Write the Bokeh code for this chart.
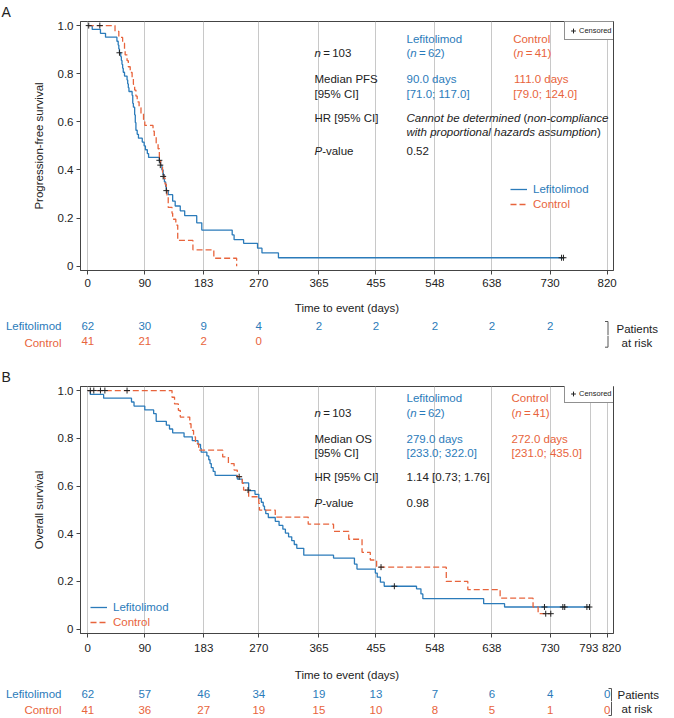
from bokeh.plotting import figure
from bokeh.models import (Range1d, FixedTicker, Label, Legend, LegendItem, LinearAxis)
from bokeh.layouts import column
from bokeh.embed import file_html
from bokeh.resources import INLINE

# ---------------- data ----------------
pfs_ticks = [0, 90, 183, 270, 365, 455, 548, 638, 730, 820]
os_ticks = [0, 90, 183, 270, 365, 455, 548, 638, 730, 793, 820]
y_ticks = [0, 0.2, 0.4, 0.6, 0.8, 1.0]

pfs_lef_t = [0, 7, 20, 28, 46, 48, 49, 50, 52, 53, 54, 55, 56, 58, 62, 63, 64, 65, 70, 71,
             72, 74, 75, 76, 78, 80, 86, 89, 91, 94, 96, 113, 115, 117, 119, 121, 123, 124, 127, 134,
             138, 146, 153, 172, 180, 228, 231, 246, 268, 275, 301, 751]
pfs_lef_s = [1.0, 0.984, 0.968, 0.952, 0.935, 0.919, 0.903, 0.887, 0.871, 0.855,
             0.839, 0.823, 0.806, 0.79, 0.774, 0.758, 0.742, 0.726, 0.71, 0.677,
             0.661, 0.629, 0.597, 0.565, 0.548, 0.532, 0.516, 0.5, 0.484, 0.468,
             0.452, 0.436, 0.42, 0.40, 0.38, 0.35, 0.33, 0.314, 0.297, 0.27,
             0.25, 0.23, 0.21, 0.18, 0.15, 0.13, 0.11, 0.095, 0.075, 0.055, 0.035, 0.035]
pfs_ctl_t = [0, 43, 49, 55, 58, 59, 62, 64, 67, 70, 72, 74, 76, 78, 81, 84, 88, 90, 103, 105,
             108, 111, 113, 115, 118, 120, 122, 124, 125, 127, 133, 134, 139, 142, 166, 199, 235]
pfs_ctl_s = [1.0, 0.976, 0.951, 0.927, 0.902, 0.878, 0.854, 0.829, 0.805, 0.78,
             0.756, 0.732, 0.707, 0.683, 0.659, 0.634, 0.61, 0.585, 0.561, 0.537,
             0.512, 0.488, 0.439, 0.415, 0.39, 0.366, 0.341, 0.317, 0.293, 0.244,
             0.22, 0.195, 0.171, 0.107, 0.068, 0.033, 0.0]
pfs_cens_t = [1.5, 19, 50, 113, 114.5, 119, 124, 748, 751]
pfs_cens_s = [1.0, 1.0, 0.887, 0.44, 0.42, 0.373, 0.314, 0.035, 0.035]

os_lef_t = [0, 4, 25, 69, 73, 90, 104, 108, 124, 129, 134, 152, 165, 174, 178, 179, 188, 191, 193, 195,
            198, 201, 236, 244, 254, 264, 270, 274, 277, 279, 281, 285, 296, 302, 308, 312, 317, 322, 326, 330,
            341, 388, 421, 425, 454, 457, 462, 468, 519, 526, 529, 625, 658, 793]
os_lef_s = [1.0, 0.984, 0.968, 0.952, 0.935, 0.919, 0.903, 0.871, 0.855, 0.839,
            0.823, 0.806, 0.79, 0.774, 0.758, 0.742, 0.726, 0.71, 0.694, 0.677,
            0.661, 0.645, 0.629, 0.613, 0.581, 0.565, 0.548, 0.532, 0.516, 0.5,
            0.484, 0.468, 0.452, 0.435, 0.419, 0.403, 0.387, 0.371, 0.355, 0.339,
            0.31, 0.298, 0.273, 0.252, 0.235, 0.218, 0.197, 0.18, 0.169, 0.148,
            0.128, 0.107, 0.093, 0.093]
os_ctl_t = [0, 133, 137, 143, 146, 161, 163, 167, 170, 175, 213, 222, 231, 236, 244, 246, 254, 270, 271, 296,
            348, 388, 412, 433, 446, 456, 566, 600, 651, 703, 711, 731]
os_ctl_s = [1.0, 0.972, 0.944, 0.917, 0.889, 0.861, 0.833, 0.806, 0.778, 0.75,
            0.722, 0.694, 0.667, 0.639, 0.611, 0.583, 0.555, 0.527, 0.499, 0.47,
            0.44, 0.41, 0.377, 0.322, 0.29, 0.26, 0.2, 0.166, 0.13, 0.093, 0.065, 0.065]
os_cens_t = [4, 9.5, 20, 27, 62, 239, 253, 463, 484, 721, 723, 731, 750, 753, 788, 792]
os_cens_s = [1, 1, 1, 1, 1, 0.639, 0.583, 0.26, 0.18, 0.093, 0.065, 0.065, 0.093, 0.093, 0.093, 0.093]

risk_t_pfs_lef = [0, 90, 183, 270, 365, 455, 548, 638, 730]
risk_pfs_lef = [62, 30, 9, 4, 2, 2, 2, 2, 2]
risk_t_pfs_ctl = [0, 90, 183, 270]
risk_pfs_ctl = [41, 21, 2, 0]
risk_t_os = [0, 90, 183, 270, 365, 455, 548, 638, 730, 820]
risk_os_lef = [62, 57, 46, 34, 19, 13, 7, 6, 4, 0]
risk_os_ctl = [41, 36, 27, 19, 15, 10, 8, 5, 1, 0]

# ---------------- style / layout helpers ----------------
BLUE = "#2b7bba"
ORANGE = "#e8643c"
INK = "#222222"
FONT = "Liberation Sans"
FSZ = 11.5
FS = "11.5px"
WIDTH = 674
BL, BR = 80, 61                       # frame borders left / right
X0, X1 = -11.5, 830.0
Y0, Y1 = -0.018, 1.017
FW, FH = WIDTH - BL - BR, 249
XSC = FW / (X1 - X0)

W = {' ': 278, '(': 333, ')': 333, '=': 584, '[': 278, ']': 278, ';': 278, '.': 278, '%': 889,
     '-': 333, '\u2009': 200, 'C': 722, 'H': 722, 'I': 278, 'L': 556, 'M': 833, 'O': 778, 'P': 667,
     'F': 611, 'S': 667, 'R': 722, 'a': 556, 'b': 556, 'c': 500, 'd': 556, 'e': 556, 'f': 278,
     'g': 556, 'h': 556, 'i': 222, 'l': 222, 'm': 833, 'n': 556, 'o': 556, 'p': 556, 'r': 333,
     's': 500, 't': 278, 'u': 556, 'v': 500, 'w': 722, 'y': 500, 'z': 500, 'k': 500, 'x': 500}


def tw(s, size):
    return sum(W.get(c, 556) for c in s) * size / 1000.0


def add_text(p, x, y, parts, color, size=FSZ):
    off = 0.0
    for txt, it in parts:
        stripped = txt.lstrip(" ")
        off += tw(txt[:len(txt) - len(stripped)], size)
        p.add_layout(Label(x=x, y=y, x_offset=off, text=stripped, text_font=FONT,
                           text_font_size=f"{size}px",
                           text_font_style="italic" if it else "normal",
                           text_color=color, text_align="left", text_baseline="middle"))
        off += tw(stripped, size)


def km_panel(letter, height, top, ticks, tick_over, lef_t, lef_s, ctl_t, ctl_s, c_t, c_s,
             ylabel, texts, leg_lef, leg_ctl, als):
    p = figure(width=WIDTH, height=height, x_range=Range1d(X0, X1), y_range=Range1d(Y0, Y1),
               output_backend="svg", toolbar_location=None,
               min_border_left=BL, min_border_right=BR, min_border_top=top,
               min_border_bottom=height - top - FH)
    p.background_fill_color = "white"
    p.border_fill_color = "white"
    p.outline_line_color = "#444444"
    p.outline_line_width = 1

    p.title.text = letter
    p.title.text_font = FONT
    p.title.text_font_size = "14px"
    p.title.text_font_style = "normal"
    p.title.text_color = INK
    p.title.align = "left"
    p.title.offset = -(BL - 1)
    p.title.standoff = 0
    p.title.vertical_align = "top"

    p.xaxis.ticker = FixedTicker(ticks=ticks)
    p.xaxis.major_label_overrides = tick_over
    p.yaxis.ticker = FixedTicker(ticks=y_ticks)
    p.yaxis.major_label_overrides = {0: "0", 1: "1.0"}
    for ax in (p.xaxis[0], p.yaxis[0]):
        ax.axis_line_color = "#444444"
        ax.major_tick_line_color = "#444444"
        ax.major_tick_in = 0
        ax.major_tick_out = 4
        ax.minor_tick_line_color = None
        ax.major_label_text_font = FONT
        ax.major_label_text_font_size = FS
        ax.major_label_text_color = INK
        ax.major_label_standoff = 4
        ax.axis_label_text_font = FONT
        ax.axis_label_text_font_size = FS
        ax.axis_label_text_color = INK
        ax.axis_label_text_font_style = "normal"
    p.yaxis.major_label_standoff = 3
    p.xaxis.axis_label = "Time to event (days)"
    p.xaxis.axis_label_standoff = als
    p.yaxis.axis_label = ylabel
    p.yaxis.axis_label_standoff = 10
    p.xgrid.ticker = FixedTicker(ticks=ticks)
    p.xgrid.grid_line_color = "#c8c8c8"
    p.xgrid.grid_line_width = 1
    p.ygrid.grid_line_color = None

    r_lef = p.step(lef_t, lef_s, mode="after", line_color=BLUE, line_width=1.3)
    r_ctl = p.step(ctl_t, ctl_s, mode="after", line_color=ORANGE, line_width=1.3, line_dash="6 3")
    r_cen = p.scatter(c_t, c_s, marker="cross", size=6, line_color=INK, line_width=1)

    for label, rend, loc, col in (("Lefitolimod", r_lef, leg_lef, BLUE),
                                  ("Control", r_ctl, leg_ctl, ORANGE)):
        lg = Legend(items=[LegendItem(label=label, renderers=[rend])], location=loc,
                    label_text_color=col, label_text_font=FONT, label_text_font_size=FS,
                    background_fill_alpha=0, border_line_color=None, padding=0, margin=0,
                    spacing=0, glyph_width=17, glyph_height=12, label_height=12,
                    label_standoff=6)
        p.add_layout(lg)
    cl = Legend(items=[LegendItem(label="Censored", renderers=[r_cen])], location=(484, 230),
                label_text_color=INK, label_text_font=FONT, label_text_font_size="7.5px",
                background_fill_color="white", background_fill_alpha=1,
                border_line_color=INK, border_line_width=1, padding=2, margin=0, spacing=0,
                glyph_width=12, glyph_height=13, label_height=13, label_standoff=0)
    p.add_layout(cl)

    for (x, y, parts, col) in texts:
        add_text(p, x, y, parts, col)
    return p


def side_axis(text, ypos, color, standoff):
    ax = LinearAxis(ticker=FixedTicker(ticks=[ypos]), major_label_overrides={ypos: text},
                    axis_line_color=None, major_tick_line_color=None, minor_tick_line_color=None,
                    major_tick_in=0, major_tick_out=0, minor_tick_in=0, minor_tick_out=0,
                    major_label_standoff=standoff, major_label_text_font=FONT,
                    major_label_text_font_size=FS, major_label_text_color=color)
    return ax


def risk_row(height, name, color, yc, times, counts, side_text, ys, br_top, br_bot, br_px):
    """one row of the patients-at-risk table, on the same x scale as the KM panel"""
    r = figure(width=WIDTH, height=height, x_range=Range1d(X0, X1), y_range=Range1d(height, 0),
               output_backend="svg", toolbar_location=None, title=None,
               min_border_left=BL, min_border_right=BR, min_border_top=0, min_border_bottom=0,
               x_axis_location=None, y_axis_location=None)
    r.outline_line_color = None
    r.background_fill_color = "white"
    r.border_fill_color = "white"
    for g in r.grid:
        g.visible = False
    r.add_layout(side_axis(name, yc, color, 19), "left")
    r.add_layout(side_axis(side_text, ys[0], INK, ys[1]), "right")
    for t, n in zip(times, counts):
        r.add_layout(Label(x=t, y=yc, text=str(n), text_font=FONT, text_font_size=FS,
                           text_color=color, text_align="center", text_baseline="middle"))
    bx = X1 - br_px / XSC
    hx = X1 - (br_px + 3) / XSC
    xs, yv = [], []
    if br_top is not None:
        xs += [hx, bx]
        yv += [br_top, br_top]
    else:
        xs += [bx]
        yv += [0]
    if br_bot is not None:
        xs += [bx, hx]
        yv += [br_bot, br_bot]
    else:
        xs += [bx]
        yv += [height]
    r.line(xs, yv, line_color="#555555", line_width=1)
    return r


C1, C2 = 357.9, 503.2

textsA = [
    (C1, 0.885, [("n", True), ("\u2009=\u2009103", False)], INK),
    (C1, 0.776, [("Median PFS", False)], INK),
    (C1, 0.7175, [("[95% CI]", False)], INK),
    (C1, 0.6165, [("HR [95% CI]", False)], INK),
    (C1, 0.478, [("P", True), ("-value", False)], INK),
    (C2, 0.945, [("Lefitolimod", False)], BLUE),
    (C2, 0.885, [("(", False), ("n", True), ("\u2009=\u200962)", False)], BLUE),
    (C2, 0.776, [("90.0 days", False)], BLUE),
    (C2, 0.7175, [("[71.0; 117.0]", False)], BLUE),
    (C2, 0.6165, [("Cannot be determined", True), (" (", False), ("non-compliance", True)], INK),
    (C2, 0.5596, [("with proportional hazards assumption", True), (")", False)], INK),
    (C2, 0.478, [("0.52", False)], INK),
    (671.6, 0.945, [("Control", False)], ORANGE),
    (671.6, 0.885, [("(", False), ("n", True), ("\u2009=\u200941)", False)], ORANGE),
    (673.0, 0.776, [("111.0 days", False)], ORANGE),
    (671.6, 0.7175, [("[79.0; 124.0]", False)], ORANGE),
]

textsB = [
    (C1, 0.907, [("n", True), ("\u2009=\u2009103", False)], INK),
    (C1, 0.797, [("Median OS", False)], INK),
    (C1, 0.739, [("[95% CI]", False)], INK),
    (C1, 0.638, [("HR [95% CI]", False)], INK),
    (C1, 0.527, [("P", True), ("-value", False)], INK),
    (C2, 0.967, [("Lefitolimod", False)], BLUE),
    (C2, 0.907, [("(", False), ("n", True), ("\u2009=\u200962)", False)], BLUE),
    (C2, 0.797, [("279.0 days", False)], BLUE),
    (C2, 0.739, [("[233.0; 322.0]", False)], BLUE),
    (C2, 0.638, [("1.14 [0.73; 1.76]", False)], INK),
    (C2, 0.527, [("0.98", False)], INK),
    (669.0, 0.967, [("Control", False)], ORANGE),
    (669.0, 0.907, [("(", False), ("n", True), ("\u2009=\u200941)", False)], ORANGE),
    (669.0, 0.797, [("272.0 days", False)], ORANGE),
    (669.0, 0.739, [("[231.0; 435.0]", False)], ORANGE),
]

pA = km_panel("A", 318, 21, pfs_ticks, {}, pfs_lef_t, pfs_lef_s, pfs_ctl_t, pfs_ctl_s,
              pfs_cens_t, pfs_cens_s, "Progression-free survival", textsA,
              (430, 75), (430, 60), 12)
rA1 = risk_row(17, "Lefitolimod", BLUE, 7, risk_t_pfs_lef, risk_pfs_lef, "Patients", (10.3, 3),
               3, None, 5.5)
rA2 = risk_row(25, "Control", ORANGE, 5, risk_t_pfs_ctl, risk_pfs_ctl, "at risk", (7.3, 8),
               None, 11.7, 5.5)
pB = km_panel("B", 323, 26, os_ticks, {793: "793\u2009", 820: "\u2007\u2009820"},
              os_lef_t, os_lef_s, os_ctl_t, os_ctl_s,
              os_cens_t, os_cens_s, "Overall survival", textsB,
              (10, 20), (10, 5), 12)
rB1 = risk_row(18, "Lefitolimod", BLUE, 10.3, risk_t_os, risk_os_lef, "Patients", (11, 4), 5, None, 2)
rB2 = risk_row(17, "Control", ORANGE, 8.3, risk_t_os, risk_os_ctl, "at risk", (7.3, 8), None, 14, 2)

layout = column(pA, rA1, rA2, pB, rB1, rB2, spacing=0)
open("out.html", "w").write(file_html(layout, INLINE))
